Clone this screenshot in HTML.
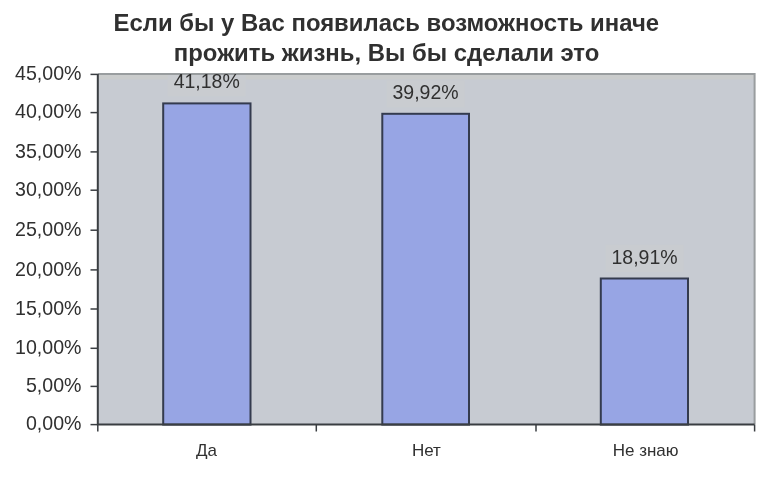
<!DOCTYPE html>
<html><head><meta charset="utf-8"><style>
html,body{margin:0;padding:0;background:#fff;width:768px;height:479px;overflow:hidden}
svg{display:block;filter:blur(0.45px)}
text{font-family:"Liberation Sans",sans-serif;fill:#303030}
.t{font-weight:bold;font-size:23.9px;text-anchor:middle}
.dl{font-size:19.5px;text-anchor:middle}
.yl{font-size:20px;text-anchor:end}
.xl{font-size:17px;text-anchor:middle}
</style></head><body>
<svg width="768" height="479" viewBox="0 0 768 479">
<text x="386.3" y="30.8" class="t">Если бы у Вас появилась возможность иначе</text>
<text x="386.6" y="60.9" class="t">прожить жизнь, Вы бы сделали это</text>
<rect x="97.8" y="74.0" width="656.8" height="350.6" fill="#c7cbd2"/>
<rect x="97.8" y="75" width="656.8" height="4.5" fill="#cacccc"/>
<path d="M97.8 74.0 H754.6 V424.6" fill="none" stroke="#999d9f" stroke-width="2"/>
<rect x="163.2" y="103.4" width="87.3" height="321.2" fill="#97a5e4" stroke="#343b4e" stroke-width="2"/>
<rect x="382.3" y="113.8" width="86.7" height="310.8" fill="#97a5e4" stroke="#343b4e" stroke-width="2"/>
<rect x="600.8" y="278.5" width="87.2" height="146.1" fill="#97a5e4" stroke="#343b4e" stroke-width="2"/>
<rect x="167.7" y="75.0" width="78" height="21.4" fill="#c9ccd0"/>
<text x="206.7" y="88.4" class="dl">41,18%</text>
<rect x="386.6" y="80.4" width="78" height="27.0" fill="#c9ccd0"/>
<text x="425.6" y="99.4" class="dl">39,92%</text>
<rect x="605.6" y="244.9" width="78" height="27.0" fill="#c9ccd0"/>
<text x="644.6" y="263.9" class="dl">18,91%</text>
<text x="206.6" y="456" class="xl">Да</text>
<text x="426.4" y="456" class="xl">Нет</text>
<text x="645.6" y="456" class="xl">Не знаю</text>
<path d="M97.8 74.0 V424.6 H754.6" fill="none" stroke="#3a3e42" stroke-width="2"/>
<path d="M90.5 424.6 H97.8" stroke="#3a3e42" stroke-width="1.5"/>
<text transform="translate(81.5 430.4) scale(0.98 1)" class="yl">0,00%</text>
<path d="M90.5 386.4 H97.8" stroke="#3a3e42" stroke-width="1.5"/>
<text transform="translate(81.5 392.2) scale(0.98 1)" class="yl">5,00%</text>
<path d="M90.5 348.3 H97.8" stroke="#3a3e42" stroke-width="1.5"/>
<text transform="translate(81.5 354.1) scale(0.98 1)" class="yl">10,00%</text>
<path d="M90.5 309.0 H97.8" stroke="#3a3e42" stroke-width="1.5"/>
<text transform="translate(81.5 314.8) scale(0.98 1)" class="yl">15,00%</text>
<path d="M90.5 269.9 H97.8" stroke="#3a3e42" stroke-width="1.5"/>
<text transform="translate(81.5 275.7) scale(0.98 1)" class="yl">20,00%</text>
<path d="M90.5 230.2 H97.8" stroke="#3a3e42" stroke-width="1.5"/>
<text transform="translate(81.5 236.0) scale(0.98 1)" class="yl">25,00%</text>
<path d="M90.5 190.2 H97.8" stroke="#3a3e42" stroke-width="1.5"/>
<text transform="translate(81.5 196.0) scale(0.98 1)" class="yl">30,00%</text>
<path d="M90.5 151.9 H97.8" stroke="#3a3e42" stroke-width="1.5"/>
<text transform="translate(81.5 157.7) scale(0.98 1)" class="yl">35,00%</text>
<path d="M90.5 112.6 H97.8" stroke="#3a3e42" stroke-width="1.5"/>
<text transform="translate(81.5 118.4) scale(0.98 1)" class="yl">40,00%</text>
<path d="M90.5 74.4 H97.8" stroke="#3a3e42" stroke-width="1.5"/>
<text transform="translate(81.5 80.2) scale(0.98 1)" class="yl">45,00%</text>
<path d="M97.8 424.6 V431.5" stroke="#3a3e42" stroke-width="1.5"/>
<path d="M316.3 424.6 V431.5" stroke="#3a3e42" stroke-width="1.5"/>
<path d="M536.0 424.6 V431.5" stroke="#3a3e42" stroke-width="1.5"/>
<path d="M754.6 424.6 V431.5" stroke="#3a3e42" stroke-width="1.5"/>
</svg></body></html>
